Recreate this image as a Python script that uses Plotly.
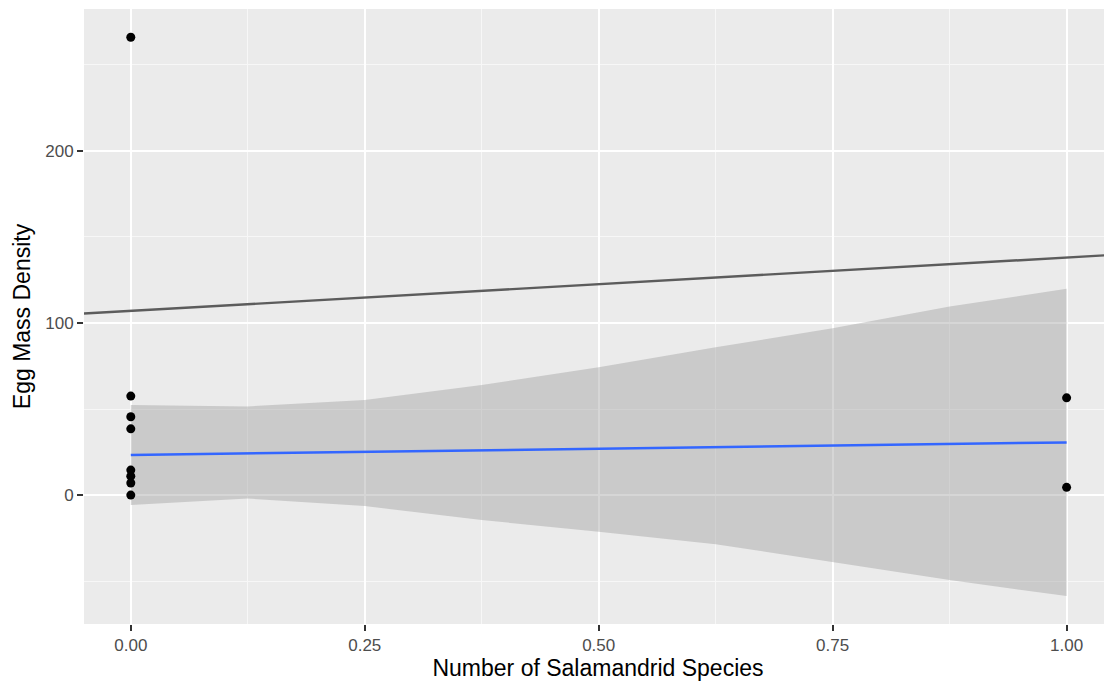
import plotly.graph_objects as go

# ---- data ----
species_x = [0, 0, 0, 0, 0, 0, 0, 0, 1, 1]
egg_density = [266, 57.5, 45.5, 38.5, 14.5, 11, 7, 0, 56.5, 4.5]

# smoothing (lm) fit line and confidence band
fit_x = [0, 0.125, 0.25, 0.375, 0.5, 0.625, 0.75, 0.875, 1.0]
fit_y = [23.3, 24.2, 25.1, 26.0, 27.0, 27.9, 28.8, 29.7, 30.6]
band_upper = [52.3, 51.5, 55.2, 64.0, 74.2, 85.9, 96.9, 109.5, 119.8]
band_lower = [-5.8, -2.0, -6.4, -14.5, -21.3, -28.5, -38.8, -49.4, -58.7]

# reference line (abline)
abline_intercept = 107.0
abline_slope = 31.0

x_ticks = [0, 0.25, 0.5, 0.75, 1.0]
x_tick_labels = ["0.00", "0.25", "0.50", "0.75", "1.00"]
y_ticks = [0, 100, 200]
y_tick_labels = ["0", "100", "200"]

x_range = [-0.05, 1.0485]
y_range = [-74.9, 282.4]

FONT = "Liberation Sans, Arial, sans-serif"

fig = go.Figure()

# confidence band
fig.add_trace(go.Scatter(
    x=fit_x + fit_x[::-1],
    y=band_upper + band_lower[::-1],
    fill="toself",
    fillcolor="rgba(153,153,153,0.4)",
    line=dict(width=0),
    mode="lines",
    hoverinfo="skip",
    showlegend=False,
))

# fitted line
fig.add_trace(go.Scatter(
    x=fit_x, y=fit_y, mode="lines",
    line=dict(color="#3366FF", width=2.5),
    showlegend=False,
))

# abline across the panel
ab_x = list(x_range)
ab_y = [abline_intercept + abline_slope * v for v in ab_x]
fig.add_trace(go.Scatter(
    x=ab_x, y=ab_y, mode="lines",
    line=dict(color="#5C5C5C", width=2.4),
    showlegend=False,
))

# points
fig.add_trace(go.Scatter(
    x=species_x, y=egg_density, mode="markers",
    marker=dict(color="black", size=9),
    showlegend=False,
))

axis_common = dict(
    showline=False,
    zeroline=False,
    gridcolor="white",
    gridwidth=2,
    ticks="outside",
    ticklen=6,
    tickwidth=1.5,
    tickcolor="#333333",
    tickfont=dict(family=FONT, size=17, color="#4D4D4D"),
)

fig.update_xaxes(
    range=x_range,
    tickvals=x_ticks,
    ticktext=x_tick_labels,
    minor=dict(tickvals=[0.125, 0.375, 0.625, 0.875], showgrid=True,
               gridcolor="#F7F7F7", gridwidth=1, ticks=""),
    title=dict(text="Number of Salamandrid Species",
               font=dict(family=FONT, size=23, color="black"),
               standoff=5),
    **axis_common,
)
fig.update_yaxes(
    range=y_range,
    tickvals=y_ticks,
    ticktext=y_tick_labels,
    minor=dict(tickvals=[-50, 50, 150, 250], showgrid=True,
               gridcolor="#F7F7F7", gridwidth=1, ticks=""),
    title=dict(text="Egg Mass Density",
               font=dict(family=FONT, size=23, color="black"),
               standoff=8),
    **axis_common,
)

# page body has an 8px default margin: size/offset the figure to compensate
fig.update_layout(
    width=1104,
    height=679,
    margin=dict(l=76, r=0, t=1, b=63),
    plot_bgcolor="#EBEBEB",
    paper_bgcolor="white",
    showlegend=False,
)

fig.write_html("out.html")
